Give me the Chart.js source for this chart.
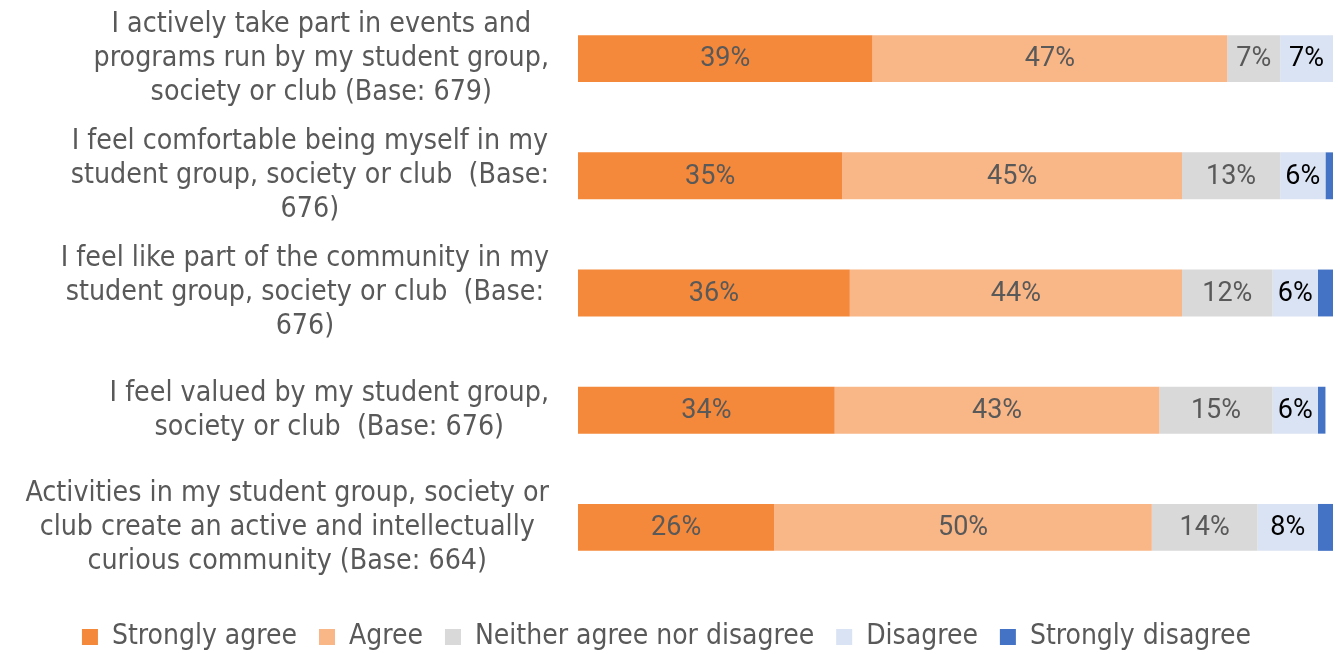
<!DOCTYPE html>
<html>
<head>
<meta charset="utf-8">
<script src="https://cdn.jsdelivr.net/npm/chart.js@4/dist/chart.umd.min.js"></script>
<style>
html,body{margin:0;padding:0;background:#fff;}
#wrap{width:1340px;height:654px;position:relative;}
</style>
</head>
<body>
<div id="wrap"><canvas id="c"></canvas></div>
<script>
const categories = [
  ["I actively take part in events and", "programs run by my student group,", "society or club (Base: 679)"],
  ["I feel comfortable being myself in my", "student group, society or club  (Base:", "676)"],
  ["I feel like part of the community in my", "student group, society or club  (Base:", "676)"],
  ["I feel valued by my student group,", "society or club  (Base: 676)"],
  ["Activities in my student group, society or", "club create an active and intellectually", "curious community (Base: 664)"]
];
const seriesNames = ["Strongly agree", "Agree", "Neither agree nor disagree", "Disagree", "Strongly disagree"];
const stronglyAgree = [39, 35, 36, 34, 26];
const agree = [47, 45, 44, 43, 50];
const neither = [7, 13, 12, 15, 14];
const disagree = [7, 6, 6, 6, 8];
const stronglyDisagree = [0, 1, 2, 1, 2];

const colors = ["#F4883B", "#F9B686", "#D9D9D9", "#DAE3F3", "#4472C4"];
const labelColors = ["#595959", "#595959", "#595959", "#000000", null];
const CAT_FONT = '28.3px "DejaVu Sans Condensed", "DejaVu Sans", sans-serif';
const DATA_FONT = '27px Roboto, "Liberation Sans", sans-serif';

const catLabelPlugin = {
  id: 'catLabels',
  afterDraw(chart) {
    const ctx = chart.ctx;
    const ys = chart.scales.y;
    const right = chart.chartArea.left - 29;
    ctx.save();
    ctx.font = CAT_FONT;
    ctx.fillStyle = '#595959';
    ctx.textAlign = 'center';
    ctx.textBaseline = 'middle';
    chart.data.labels.forEach((lines, i) => {
      const cy = ys.getPixelForValue(i);
      const widest = Math.max(...lines.map(l => ctx.measureText(l).width));
      const cx = right - widest / 2;
      const n = lines.length;
      lines.forEach((l, j) => ctx.fillText(l, cx, cy + (j - (n - 1) / 2) * 34));
    });
    ctx.restore();
  }
};

const dataLabelPlugin = {
  id: 'dataLabels',
  afterDatasetsDraw(chart) {
    const ctx = chart.ctx;
    ctx.save();
    ctx.font = DATA_FONT;
    ctx.textAlign = 'center';
    ctx.textBaseline = 'middle';
    chart.data.datasets.forEach((ds, di) => {
      if (!labelColors[di]) return;
      const meta = chart.getDatasetMeta(di);
      meta.data.forEach((el, i) => {
        const v = ds.data[i];
        if (!v) return;
        ctx.fillStyle = labelColors[di];
        ctx.fillText(v + '%', (el.x + el.base) / 2, el.y + 1);
      });
    });
    ctx.restore();
  }
};

const seriesData = [stronglyAgree, agree, neither, disagree, stronglyDisagree];

new Chart(document.getElementById('c'), {
  type: 'bar',
  data: {
    labels: categories,
    datasets: seriesData.map((d, i) => ({
      label: seriesNames[i],
      data: d,
      backgroundColor: colors[i],
      borderWidth: 0,
      categoryPercentage: 1,
      barPercentage: 0.4
    }))
  },
  options: {
    indexAxis: 'y',
    responsive: true,
    maintainAspectRatio: false,
    animation: false,
    layout: { padding: { left: 0, right: 7, top: 0, bottom: -7 } },
    scales: {
      x: {
        stacked: true, min: 0, max: 100,
        grid: { display: false }, border: { display: false },
        ticks: { display: false },
        afterFit(scale) { scale.height = 15; }
      },
      y: {
        stacked: true,
        grid: { display: false }, border: { display: false },
        ticks: { display: false },
        afterFit(scale) { scale.width = 578; }
      }
    },
    plugins: {
      tooltip: { enabled: false },
      legend: {
        position: 'bottom',
        labels: {
          boxWidth: 16, boxHeight: 16, padding: 22,
          color: '#595959',
          font: { family: '"DejaVu Sans Condensed", "DejaVu Sans", sans-serif', size: 28 }
        }
      }
    }
  },
  plugins: [catLabelPlugin, dataLabelPlugin]
});
</script>
</body>
</html>
